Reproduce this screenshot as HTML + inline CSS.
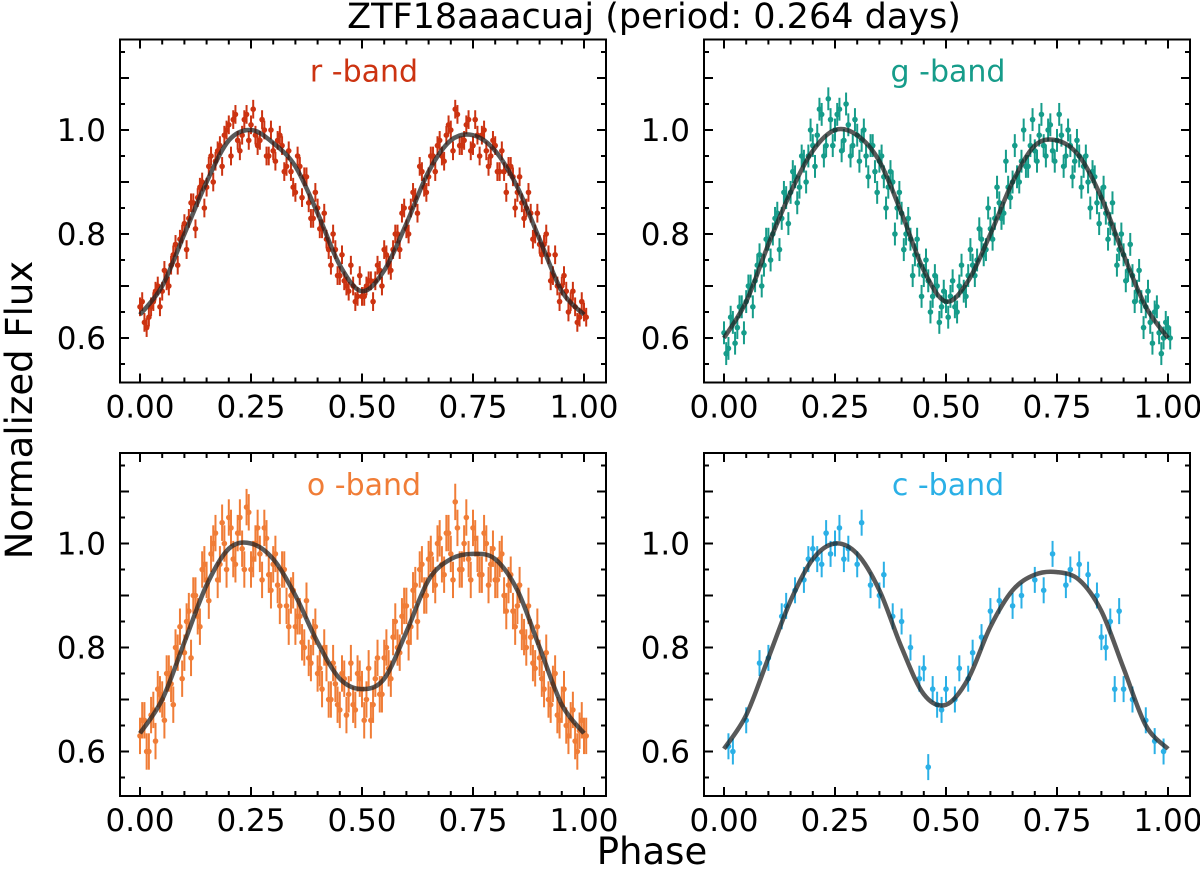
<!DOCTYPE html>
<html><head><meta charset="utf-8">
<style>
body{margin:0;background:#fff;}
svg text{font-family:"DejaVu Sans","Liberation Sans",sans-serif;}
</style></head>
<body>
<svg id="fig" width="1200" height="867" viewBox="0 0 1200 867" xmlns="http://www.w3.org/2000/svg">
<text x="654" y="28" font-size="35" text-anchor="middle">ZTF18aaacuaj (period: 0.264 days)</text>
<text x="0" y="0" font-size="37" text-anchor="middle" transform="translate(32,410) rotate(-90)">Normalized Flux</text>
<text x="652" y="864" font-size="37" text-anchor="middle">Phase</text>
</svg>
<script>
const modelPhase=[0,0.05,0.1,0.15,0.2,0.25,0.3,0.35,0.4,0.45,0.5,0.55,0.6,0.65,0.7,0.75,0.8,0.85,0.9,0.95,1.0];
const rModel=[0.645,0.70,0.80,0.90,0.98,1.0,0.975,0.93,0.84,0.74,0.69,0.73,0.82,0.92,0.98,0.99,0.96,0.89,0.79,0.69,0.645];
const gModel=[0.60,0.67,0.78,0.88,0.96,1.0,0.99,0.94,0.84,0.73,0.67,0.71,0.80,0.90,0.97,0.98,0.95,0.87,0.76,0.66,0.60];
const oModel=[0.635,0.70,0.81,0.92,0.99,1.0,0.97,0.90,0.81,0.74,0.72,0.74,0.83,0.93,0.97,0.98,0.97,0.91,0.80,0.69,0.635];
const cModel=[0.605,0.67,0.78,0.89,0.97,1.0,0.98,0.91,0.80,0.71,0.69,0.74,0.84,0.91,0.94,0.945,0.93,0.87,0.76,0.65,0.605];
const gridPhase=[0.00,0.01,0.02,0.03,0.04,0.05,0.06,0.07,0.08,0.09,0.10,0.11,0.12,0.13,0.14,0.15,0.16,0.17,0.18,0.19,0.20,0.21,0.22,0.23,0.24,0.25,0.26,0.27,0.28,0.29,0.30,0.31,0.32,0.33,0.34,0.35,0.36,0.37,0.38,0.39,0.40,0.41,0.42,0.43,0.44,0.45,0.46,0.47,0.48,0.49,0.50,0.51,0.52,0.53,0.54,0.55,0.56,0.57,0.58,0.59,0.60,0.61,0.62,0.63,0.64,0.65,0.66,0.67,0.68,0.69,0.70,0.71,0.72,0.73,0.74,0.75,0.76,0.77,0.78,0.79,0.80,0.81,0.82,0.83,0.84,0.85,0.86,0.87,0.88,0.89,0.90,0.91,0.92,0.93,0.94,0.95,0.96,0.97,0.98,0.99,1.00];
const rFlux=[.66,.63,.64,.67,.70,.69,.71,.74,.78,.79,.82,.83,.86,.87,.90,.89,.95,.94,.97,.99,1.01,1.02,.98,.99,1.03,1.01,.99,.98,1.0,.95,.96,.98,.97,.93,.92,.88,.93,.91,.86,.83,.85,.81,.79,.74,.77,.72,.71,.69,.70,.68,.68,.70,.71,.71,.73,.77,.74,.77,.80,.84,.81,.85,.87,.93,.89,.91,.95,.97,.95,.99,1.0,1.04,.97,.98,1.02,.97,.99,.99,.96,.95,.97,.92,.92,.93,.91,.88,.86,.85,.84,.80,.78,.78,.76,.72,.70,.70,.69,.67,.66,.64,.65];
const rFlux2=[.67,.62,.66,.69,.66,.73,.70,.76,.74,.80,.77,.86,.81,.89,.85,.93,.90,.96,.93,1.0,.95,1.03,.96,1.02,.98,1.04,.97,1.02,.95,1.0,.94,.99,.92,.96,.89,.95,.87,.91,.83,.88,.81,.84,.77,.80,.72,.76,.70,.74,.67,.72,.68,.71,.67,.74,.70,.76,.73,.80,.77,.85,.80,.88,.84,.92,.88,.95,.92,.98,.94,1.01,.96,1.03,.97,1.01,.96,1.02,.95,1.0,.93,.98,.92,.96,.88,.93,.85,.91,.83,.88,.79,.84,.76,.80,.71,.76,.67,.72,.65,.69,.63,.67,.64];
const gFlux=[.61,.58,.63,.62,.66,.67,.70,.71,.76,.74,.79,.80,.84,.83,.87,.88,.91,.89,.94,.95,.97,.99,1.03,.97,1.02,1.0,1.04,.98,1.01,.97,.99,.98,.95,.97,.92,.94,.91,.89,.90,.85,.84,.80,.79,.76,.74,.72,.71,.68,.70,.66,.67,.68,.66,.70,.69,.72,.74,.75,.79,.77,.81,.83,.86,.84,.89,.90,.91,.94,.93,.97,.96,.99,.97,1.0,.96,.98,.99,.95,.97,.94,.95,.93,.90,.92,.86,.87,.84,.82,.80,.77,.76,.73,.72,.69,.67,.66,.63,.65,.61,.60,.62];
const gFlux2=[.57,.64,.59,.66,.61,.70,.66,.74,.70,.79,.75,.83,.77,.88,.82,.92,.86,.95,.90,1.0,.93,1.04,.95,1.06,.97,1.03,.96,1.05,.95,1.02,.94,1.0,.91,.97,.88,.95,.85,.92,.80,.88,.77,.83,.72,.79,.68,.75,.65,.72,.63,.69,.64,.71,.65,.74,.68,.77,.72,.81,.76,.85,.79,.89,.83,.94,.87,.97,.90,1.0,.93,1.02,.94,1.03,.95,1.01,.94,1.03,.93,1.0,.91,.98,.89,.95,.85,.91,.82,.89,.79,.86,.74,.80,.71,.78,.67,.73,.62,.69,.59,.66,.57,.63,.60];
const oFlux=[.63,.66,.60,.68,.72,.70,.75,.73,.80,.84,.79,.87,.90,.86,.95,.93,.98,1.02,.96,1.0,1.05,.97,1.02,.99,1.07,.95,1.0,.98,1.03,.94,.96,.92,.95,.88,.90,.84,.86,.80,.78,.82,.75,.72,.77,.70,.73,.68,.74,.71,.69,.75,.72,.70,.66,.74,.71,.78,.76,.82,.80,.86,.88,.84,.92,.95,.90,.97,.94,1.0,.96,1.02,.98,1.08,.95,1.0,.97,1.03,.98,.94,1.0,.96,.93,.97,.90,.92,.87,.88,.83,.80,.82,.76,.78,.72,.70,.73,.67,.69,.65,.66,.62,.64,.63];
const oFlux2=[.66,.60,.67,.62,.71,.66,.75,.69,.79,.74,.85,.78,.90,.84,.96,.89,1.0,.93,1.04,.95,1.03,.96,1.05,.95,1.06,.97,1.03,.93,1.01,.91,.98,.88,.95,.84,.91,.86,.81,.89,.77,.84,.76,.80,.70,.77,.69,.75,.67,.77,.68,.74,.66,.76,.69,.78,.71,.80,.74,.85,.79,.88,.81,.91,.85,.96,.90,.98,.92,1.01,.94,1.02,.93,1.03,.95,1.05,.93,1.01,.94,1.02,.92,.99,.93,.98,.87,.94,.84,.92,.82,.88,.77,.84,.74,.79,.69,.75,.66,.72,.63,.68,.60,.66,.63];
const cPhase=[.01,.02,.05,.08,.10,.13,.14,.16,.18,.19,.20,.21,.22,.23,.24,.25,.26,.27,.28,.30,.31,.33,.35,.36,.38,.40,.42,.44,.45,.46,.47,.48,.49,.50,.52,.53,.55,.56,.58,.60,.62,.65,.67,.70,.72,.74,.77,.78,.80,.82,.84,.85,.86,.87,.88,.89,.90,.92,.95,.97,.99];
const cFlux=[.61,.60,.66,.77,.78,.86,.88,.91,.93,.97,.99,.97,.96,1.02,.98,1.00,1.03,.97,.99,.96,1.04,.92,.90,.94,.86,.85,.80,.74,.76,.57,.72,.69,.68,.72,.70,.76,.74,.79,.82,.87,.89,.88,.90,.93,.91,.98,.92,.95,.96,.94,.90,.82,.80,.85,.72,.87,.72,.70,.66,.62,.60];
const xTickLabels=["0.00","0.25","0.50","0.75","1.00"];
const yTickLabels=["0.6","0.8","1.0"];

const NS="http://www.w3.org/2000/svg";
const svg=document.getElementById('fig');
function mk(t,a,p){const e=document.createElementNS(NS,t);for(const k in a)e.setAttribute(k,a[k]);(p||svg).appendChild(e);return e;}

const panels=[
 {name:'r-band',label:'r -band',color:'#cc3311',x0:120,y0:39.5,sets:[[gridPhase,rFlux],[gridPhase,rFlux2]],model:rModel,err:0.018},
 {name:'g-band',label:'g -band',color:'#169c8a',x0:704,y0:39.5,sets:[[gridPhase,gFlux],[gridPhase,gFlux2]],model:gModel,err:0.022},
 {name:'o-band',label:'o -band',color:'#f07d37',x0:120,y0:453,sets:[[gridPhase,oFlux],[gridPhase,oFlux2]],model:oModel,err:0.035},
 {name:'c-band',label:'c -band',color:'#2bb0e6',x0:704,y0:453,sets:[[cPhase,cFlux]],model:cModel,err:0.025}
];
const W=486,H=343;
panels.forEach(P=>{
 const g=mk('g',{});
 
 
 const xs=v=>P.x0+20+v*444;
 const ys=v=>P.y0+90.5-(v-1.0)*520;
 const pts=mk('g',{fill:P.color,stroke:P.color},g);
 
 
 P.sets.forEach(([ph,fl],si)=>{
  const n=Math.min(ph.length,fl.length);
  for(let i=0;i<n;i++){
   const x=xs(ph[i])+(si?2.2:0),y=ys(fl[i]);
   const l=mk('line',{x1:x,x2:x,y1:ys(fl[i]+P.err),y2:ys(fl[i]-P.err),'stroke-width':2},pts);
   
   
   const c=mk('circle',{cx:x,cy:y,r:2.8,stroke:'none'},pts);
   
   
  }
 });
 const p=modelPhase.map((v,i)=>[xs(v),ys(P.model[i])]);
 let d='M'+p[0][0]+','+p[0][1];
 for(let i=0;i<p.length-1;i++){
  const a=p[Math.max(i-1,0)],b=p[i],c=p[i+1],e=p[Math.min(i+2,p.length-1)];
  d+=' C'+(b[0]+(c[0]-a[0])/6)+','+(b[1]+(c[1]-a[1])/6)+' '+(c[0]-(e[0]-b[0])/6)+','+(c[1]-(e[1]-b[1])/6)+' '+c[0]+','+c[1];
 }
 const cv=mk('path',{d:d,fill:'none',stroke:'#222','stroke-opacity':0.75,'stroke-width':4.5},g);
 
 
 const fr=mk('rect',{x:P.x0,y:P.y0,width:W,height:H,fill:'none',stroke:'#000','stroke-width':2},g);
 
 
 for(let k=0;k<=20;k++){
  const v=k*0.05,x=xs(v),L=(k%5==0)?9:5;
  mk('line',{x1:x,x2:x,y1:P.y0+H,y2:P.y0+H-L,stroke:'#000','stroke-width':2},g);
  mk('line',{x1:x,x2:x,y1:P.y0,y2:P.y0+L,stroke:'#000','stroke-width':2},g);
 }
 for(let k=11;k<=23;k++){
  const v=k*0.05,y=ys(v);
  if(y<P.y0||y>P.y0+H)continue;
  const L=(k%2==0)?9:5;
  mk('line',{x1:P.x0,x2:P.x0+L,y1:y,y2:y,stroke:'#000','stroke-width':2},g);
  mk('line',{x1:P.x0+W,x2:P.x0+W-L,y1:y,y2:y,stroke:'#000','stroke-width':2},g);
 }
 xTickLabels.forEach((t,i)=>{
  const tx=mk('text',{x:xs(i*0.25),y:P.y0+H+35,'font-size':31,'text-anchor':'middle'},g);
  tx.textContent=t;
  
  
 });
 yTickLabels.forEach((t,i)=>{
  const ty=mk('text',{x:P.x0-14,y:ys(0.6+i*0.2)+11,'font-size':31,'text-anchor':'end'},g);
  ty.textContent=t;
  
  
 });
 const bl=mk('text',{x:P.x0+W/2+1,y:P.y0+42,'font-size':30,'text-anchor':'middle',fill:P.color},g);
 bl.textContent=P.label;
 
 
});
</script>
</body></html>
